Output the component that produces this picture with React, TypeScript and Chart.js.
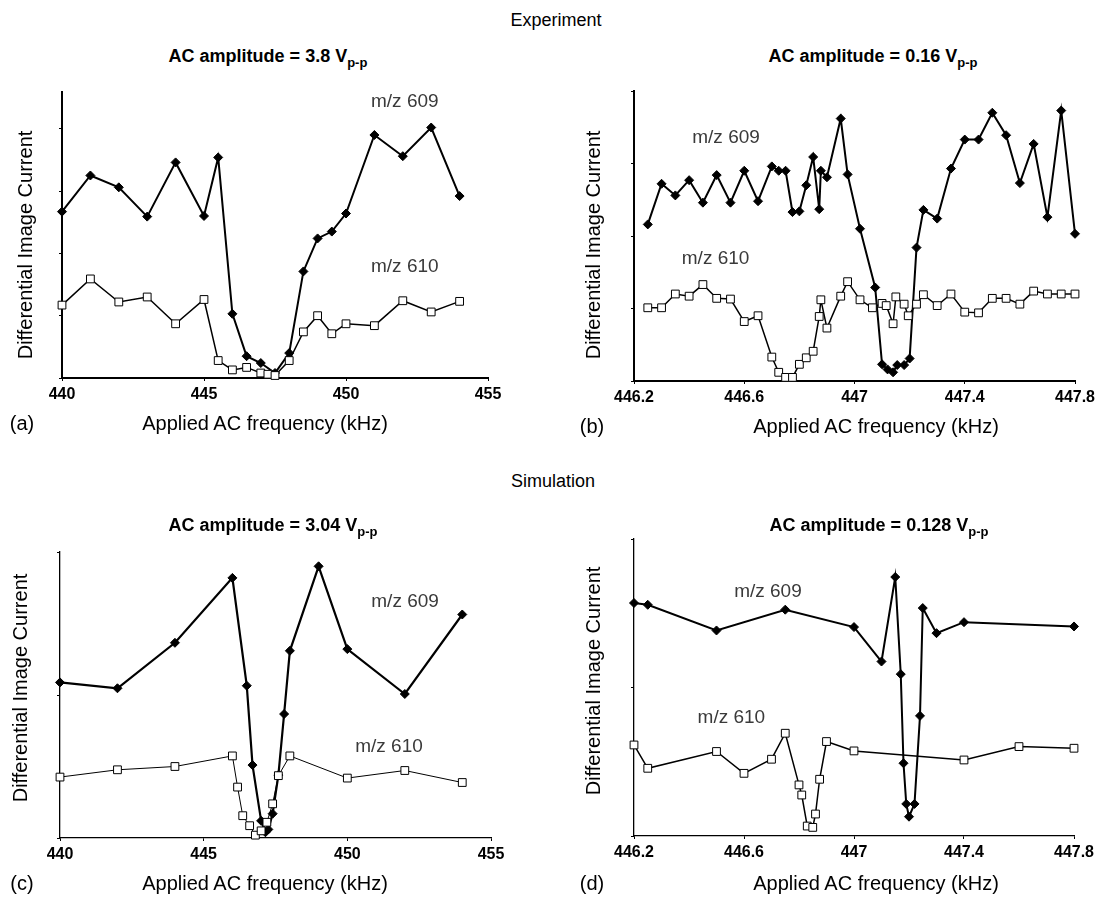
import React, { useEffect, useRef } from 'react';
import { Chart, registerables } from 'chart.js';

Chart.register(...registerables);

const FONT = "'Liberation Sans', Arial, Helvetica, sans-serif";

// ---------------- data ----------------
// tick values
const xTicksWide = [440, 445, 450, 455];
const xTicksNarrow = [446.2, 446.6, 447, 447.4, 447.8];
const yTicksA = [0, 1, 2, 3, 4];
const yTicksB = [0, 1, 2, 3, 4];
const yTicksC = [0, 1, 2];
const yTicksD = [0, 1, 2];

// (a) Experiment, AC amplitude 3.8 Vp-p
const aFreq609 = [440, 441, 442, 443, 444, 445, 445.5, 446, 446.5, 447, 447.5, 448, 448.5, 449, 449.5, 450, 451, 452, 453, 454];
const aVal609 = [2.67, 3.25, 3.06, 2.59, 3.46, 2.6, 3.54, 1.03, 0.35, 0.24, 0.08, 0.4, 1.71, 2.24, 2.35, 2.64, 3.9, 3.56, 4.02, 2.92];
const aFreq610 = [440, 441, 442, 443, 444, 445, 445.5, 446, 446.5, 447, 447.25, 447.5, 448, 448.5, 449, 449.5, 450, 451, 452, 453, 454];
const aVal610 = [1.17, 1.59, 1.22, 1.3, 0.87, 1.26, 0.28, 0.13, 0.17, 0.08, 0.06, 0.04, 0.28, 0.74, 1.0, 0.71, 0.87, 0.84, 1.24, 1.06, 1.23];

// (b) Experiment, AC amplitude 0.16 Vp-p
const bFreq609 = [446.25, 446.3, 446.35, 446.4, 446.45, 446.5, 446.55, 446.6, 446.65, 446.7, 446.725, 446.75, 446.775, 446.8, 446.825, 446.85, 446.872, 446.878, 446.9, 446.95, 446.975, 447.02, 447.075, 447.1, 447.12, 447.14, 447.155, 447.18, 447.2, 447.225, 447.25, 447.3, 447.35, 447.4, 447.45, 447.5, 447.55, 447.6, 447.65, 447.7, 447.75, 447.8];
const bVal609 = [2.16, 2.72, 2.56, 2.77, 2.46, 2.84, 2.46, 2.9, 2.48, 2.96, 2.9, 2.9, 2.33, 2.34, 2.7, 3.09, 2.37, 2.9, 2.81, 3.62, 2.85, 2.1, 1.29, 0.23, 0.16, 0.12, 0.22, 0.22, 0.31, 1.84, 2.36, 2.24, 2.93, 3.33, 3.33, 3.7, 3.39, 2.73, 3.27, 2.26, 3.73, 2.03];
const bFreq610 = [446.25, 446.3, 446.35, 446.4, 446.45, 446.5, 446.55, 446.6, 446.65, 446.7, 446.725, 446.75, 446.775, 446.8, 446.825, 446.85, 446.872, 446.878, 446.9, 446.95, 446.975, 447.02, 447.065, 447.1, 447.115, 447.14, 447.15, 447.18, 447.195, 447.225, 447.25, 447.3, 447.35, 447.4, 447.45, 447.5, 447.55, 447.6, 447.65, 447.7, 447.75, 447.8];
const bVal610 = [1.01, 1.01, 1.2, 1.17, 1.33, 1.14, 1.13, 0.82, 0.9, 0.33, 0.12, 0.05, 0.05, 0.23, 0.32, 0.41, 0.89, 1.12, 0.73, 1.17, 1.37, 1.12, 1.01, 1.07, 1.04, 0.79, 1.16, 1.06, 0.9, 1.06, 1.19, 1.04, 1.2, 0.95, 0.94, 1.14, 1.14, 1.06, 1.24, 1.2, 1.2, 1.2];

// (c) Simulation, AC amplitude 3.04 Vp-p
const cFreq609 = [440, 442, 444, 446, 446.5, 446.7, 447.0, 447.15, 447.25, 447.4, 447.6, 447.8, 448, 449, 450, 452, 454];
const cVal609 = [1.088, 1.047, 1.365, 1.819, 1.065, 0.51, 0.12, 0.04, 0.06, 0.17, 0.44, 0.867, 1.309, 1.9, 1.321, 1.007, 1.563];
const cFreq610 = [440, 442, 444, 446, 446.18, 446.36, 446.6, 446.8, 447.0, 447.2, 447.4, 447.6, 448, 450, 452, 454];
const cVal610 = [0.426, 0.477, 0.5, 0.574, 0.356, 0.156, 0.086, 0.02, 0.05, 0.11, 0.239, 0.436, 0.574, 0.419, 0.472, 0.388];

// (d) Simulation, AC amplitude 0.128 Vp-p
const dFreq609 = [446.2, 446.25, 446.5, 446.75, 447.0, 447.1, 447.15, 447.17, 447.18, 447.19, 447.2, 447.22, 447.24, 447.25, 447.3, 447.4, 447.8];
const dVal609 = [1.569, 1.557, 1.384, 1.524, 1.407, 1.175, 1.744, 1.09, 0.49, 0.216, 0.13, 0.216, 0.809, 1.535, 1.366, 1.44, 1.411];
const dFreq610 = [446.2, 446.25, 446.5, 446.6, 446.7, 446.75, 446.8, 446.81, 446.83, 446.85, 446.86, 446.875, 446.9, 447.0, 447.4, 447.6, 447.8];
const dVal610 = [0.613, 0.456, 0.569, 0.422, 0.517, 0.692, 0.344, 0.276, 0.067, 0.058, 0.148, 0.382, 0.636, 0.573, 0.512, 0.602, 0.591];

// in-plot series labels (data coordinates)
const label609 = 'm/z 609';
const label610 = 'm/z 610';
const aLabelPos = [[452.07, 4.44], [452.07, 1.79]];
const bLabelPos = [[446.534, 3.36], [446.496, 1.685]];
const cLabelPos = [[452.01, 1.65], [451.45, 0.64]];
const dLabelPos = [[446.687, 1.645], [446.554, 0.795]];

// ---------------- layout / style ----------------
const PAD_L = 40;
const PAD_R = 25;
const PAD_T = 20;
const PAD_B = 40;

type Rect = { L: number; T: number; R: number; B: number };

interface PanelCfg {
  rect: Rect;
  xMin: number;
  xMax: number;
  xTicks: number[];
  yMax: number;
  yTicks: number[];
  f609: number[];
  v609: number[];
  f610: number[];
  v610: number[];
  labelPos: number[][];
  axisW: number;
  w609: number;
  w610: number;
}

const panels: PanelCfg[] = [
  { rect: { L: 62, T: 92, R: 488, B: 378 }, xMin: 440, xMax: 455, xTicks: xTicksWide, yMax: 4.59, yTicks: yTicksA,
    f609: aFreq609, v609: aVal609, f610: aFreq610, v610: aVal610, labelPos: aLabelPos, axisW: 2, w609: 2, w610: 1.5 },
  { rect: { L: 634, T: 91, R: 1075, B: 381 }, xMin: 446.2, xMax: 447.8, xTicks: xTicksNarrow, yMax: 4, yTicks: yTicksB,
    f609: bFreq609, v609: bVal609, f610: bFreq610, v610: bVal610, labelPos: bLabelPos, axisW: 2, w609: 2, w610: 1.5 },
  { rect: { L: 60, T: 552, R: 491, B: 838 }, xMin: 440, xMax: 455, xTicks: xTicksWide, yMax: 2, yTicks: yTicksC,
    f609: cFreq609, v609: cVal609, f610: cFreq610, v610: cVal610, labelPos: cLabelPos, axisW: 1.3, w609: 2.2, w610: 1 },
  { rect: { L: 634, T: 539, R: 1074, B: 836 }, xMin: 446.2, xMax: 447.8, xTicks: xTicksNarrow, yMax: 2, yTicks: yTicksD,
    f609: dFreq609, v609: dVal609, f610: dFreq610, v610: dVal610, labelPos: dLabelPos, axisW: 1.3, w609: 2, w610: 1.5 },
];

function Panel({ cfg }: { cfg: PanelCfg }) {
  const ref = useRef<HTMLCanvasElement | null>(null);
  const { L, T, R, B } = cfg.rect;
  const w = R - L + PAD_L + PAD_R;
  const h = B - T + PAD_T + PAD_B;

  useEffect(() => {
    if (!ref.current) return;
    const labelPlugin = {
      id: 'mzLabels',
      afterDatasetsDraw(chart: any) {
        const { ctx, scales } = chart;
        ctx.save();
        ctx.font = `19px ${FONT}`;
        ctx.fillStyle = '#3a3a3a';
        ctx.textAlign = 'center';
        ctx.textBaseline = 'middle';
        const texts = [label609, label610];
        cfg.labelPos.forEach((p, i) => {
          ctx.fillText(texts[i], scales.x.getPixelForValue(p[0]), scales.y.getPixelForValue(p[1]));
        });
        ctx.restore();
      },
    };

    const gridCommon = {
      display: true,
      drawOnChartArea: false,
      drawTicks: true,
      tickLength: 3,
      color: '#000',
      lineWidth: 1,
    };

    const chart = new Chart(ref.current, {
      type: 'line',
      data: {
        datasets: [
          {
            label: label610,
            data: cfg.f610.map((x, i) => ({ x, y: cfg.v610[i] })),
            borderColor: '#000',
            borderWidth: cfg.w610,
            pointStyle: 'rect',
            pointRadius: 5.5,
            pointHoverRadius: 5.5,
            pointBackgroundColor: '#fff',
            pointBorderColor: '#000',
            pointBorderWidth: 1,
            tension: 0,
            clip: false,
          },
          {
            label: label609,
            data: cfg.f609.map((x, i) => ({ x, y: cfg.v609[i] })),
            borderColor: '#000',
            borderWidth: cfg.w609,
            pointStyle: 'rectRot',
            pointRadius: 4.5,
            pointHoverRadius: 4.5,
            pointBackgroundColor: '#000',
            pointBorderColor: '#000',
            pointBorderWidth: 1,
            tension: 0,
            clip: false,
          },
        ],
      },
      options: {
        responsive: false,
        animation: false,
        events: [],
        layout: { padding: { left: 0, right: PAD_R, top: PAD_T, bottom: 0 } },
        plugins: {
          legend: { display: false },
          tooltip: { enabled: false },
          title: { display: false },
        },
        scales: {
          x: {
            type: 'linear',
            min: cfg.xMin,
            max: cfg.xMax,
            afterBuildTicks: (s: any) => {
              s.ticks = cfg.xTicks.map((v) => ({ value: v }));
            },
            afterFit: (s: any) => {
              s.height = PAD_B;
            },
            grid: gridCommon,
            border: { display: true, color: '#000', width: cfg.axisW },
            ticks: {
              color: '#000',
              font: { family: FONT, size: 16, weight: 'bold' },
              padding: 4,
              maxRotation: 0,
              autoSkip: false,
              callback: (v: any) => String(v),
            },
          },
          y: {
            type: 'linear',
            min: 0,
            max: cfg.yMax,
            afterBuildTicks: (s: any) => {
              s.ticks = cfg.yTicks.map((v) => ({ value: v }));
            },
            afterFit: (s: any) => {
              s.width = PAD_L;
            },
            grid: gridCommon,
            border: { display: true, color: '#000', width: cfg.axisW },
            ticks: { display: false },
          },
        },
      } as any,
      plugins: [labelPlugin],
    });
    return () => chart.destroy();
  }, [cfg]);

  return (
    <canvas
      ref={ref}
      width={w}
      height={h}
      style={{ position: 'absolute', left: L - PAD_L, top: T - PAD_T, width: w, height: h }}
    />
  );
}

const base: React.CSSProperties = {
  position: 'absolute',
  fontFamily: FONT,
  color: '#000',
  whiteSpace: 'nowrap',
  lineHeight: 1,
  transform: 'translate(-50%, -50%)',
};

function Txt({ x, y, size, bold, rotate, children }: any) {
  return (
    <div
      style={{
        ...base,
        left: x,
        top: y,
        fontSize: size,
        fontWeight: bold ? 'bold' : 'normal',
        transform: rotate ? 'translate(-50%, -50%) rotate(-90deg)' : base.transform,
      }}
    >
      {children}
    </div>
  );
}

function Title({ x, y, amp }: { x: number; y: number; amp: string }) {
  return (
    <Txt x={x} y={y} size={18} bold>
      AC amplitude = {amp} V
      <span style={{ fontSize: 13, position: 'relative', top: 5 }}>p-p</span>
    </Txt>
  );
}

export default function App() {
  const yLabel = 'Differential Image Current';
  const xLabel = 'Applied AC frequency (kHz)';
  return (
    <div style={{ position: 'absolute', left: 0, top: 0, width: 1101, height: 899, overflow: 'hidden', background: '#fff' }}>
      {panels.map((p, i) => (
        <Panel key={i} cfg={p} />
      ))}

      <Txt x={556} y={20} size={18}>Experiment</Txt>
      <Txt x={553} y={481} size={18}>Simulation</Txt>

      <Title x={268} y={56} amp="3.8" />
      <Title x={873} y={56} amp="0.16" />
      <Title x={273} y={525} amp="3.04" />
      <Title x={879} y={525} amp="0.128" />

      <Txt x={25} y={245} size={20} rotate>{yLabel}</Txt>
      <Txt x={593} y={245} size={20} rotate>{yLabel}</Txt>
      <Txt x={20} y={688} size={20} rotate>{yLabel}</Txt>
      <Txt x={593} y={681} size={20} rotate>{yLabel}</Txt>

      <Txt x={265} y={423} size={20}>{xLabel}</Txt>
      <Txt x={876} y={426} size={20}>{xLabel}</Txt>
      <Txt x={265} y={883} size={20}>{xLabel}</Txt>
      <Txt x={876} y={883} size={20}>{xLabel}</Txt>

      <Txt x={22} y={423} size={20}>(a)</Txt>
      <Txt x={592} y={426} size={20}>(b)</Txt>
      <Txt x={22} y={883} size={20}>(c)</Txt>
      <Txt x={592} y={883} size={20}>(d)</Txt>
    </div>
  );
}
